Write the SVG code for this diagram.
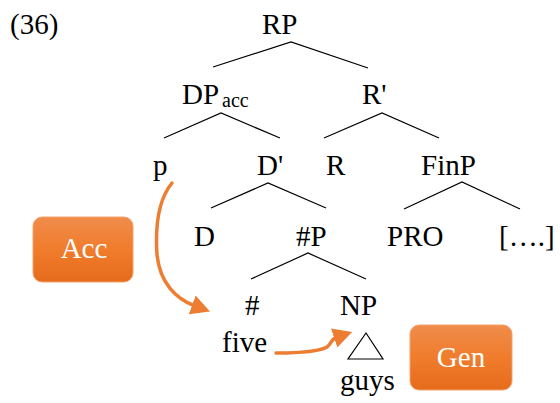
<svg xmlns="http://www.w3.org/2000/svg" width="560" height="403" viewBox="0 0 560 403">
<defs>
<style>
.e{stroke:#000;stroke-width:1.2;fill:none}
.arr{stroke:#ED7D31;stroke-width:3.5;fill:none;stroke-linecap:round}
.box{fill:url(#og);stroke:#F4A36C;stroke-width:1}
</style>
<linearGradient id="og" x1="0" y1="0" x2="0" y2="1">
<stop offset="0" stop-color="#F08C4C"/>
<stop offset="0.5" stop-color="#F07C2C"/>
<stop offset="1" stop-color="#E56C1C"/>
</linearGradient>
<marker id="ah" markerUnits="userSpaceOnUse" markerWidth="22" markerHeight="22" refX="3" refY="10" orient="auto">
<path d="M0,0 L19,10 L0,20 Z" fill="#ED7D31"/>
</marker>
</defs>
<text x="10" y="34" font-size="29" font-family="Liberation Serif, serif">(36)</text>
<g id="edges">
<path class="e" d="M213,67 L291,42 L368,68"/>
<path class="e" d="M164,138 L221,113 L280,138"/>
<path class="e" d="M324,138 L382,113 L439,138"/>
<path class="e" d="M211,208 L268,183 L326,208"/>
<path class="e" d="M404,209 L462,182 L520,209"/>
<path class="e" d="M251,279 L308,253 L366,279"/>
<path class="e" d="M366,333 L348,359 L383,359 Z"/>
</g>
<g id="arrows">
<path class="arr" d="M172,183 C158,200 155,225 157,255 C160,283 176,299 195,306" marker-end="url(#ah)"/>
<path class="arr" d="M276,353 C300,353 320,351 327,347 C332,343 331,339 337,337" marker-end="url(#ah)"/>
</g>
<g id="RP"><text font-size="29" font-family="Liberation Serif, serif" x="262" y="34">RP</text></g>
<g id="DPacc"><text font-size="29" font-family="Liberation Serif, serif" x="182" y="104">DP</text><text font-size="20" font-family="Liberation Serif, serif" x="222" y="107">acc</text></g>
<g id="Rbar"><text font-size="29" font-family="Liberation Serif, serif" x="362" y="104">R'</text></g>
<g id="p"><text font-size="29" font-family="Liberation Serif, serif" x="153" y="175">p</text></g>
<g id="Dbar"><text font-size="29" font-family="Liberation Serif, serif" x="257" y="175">D'</text></g>
<g id="R"><text font-size="29" font-family="Liberation Serif, serif" x="326" y="175">R</text></g>
<g id="FinP"><text font-size="29" font-family="Liberation Serif, serif" x="421" y="175">FinP</text></g>
<g id="D"><text font-size="29" font-family="Liberation Serif, serif" x="194" y="246">D</text></g>
<g id="NumP"><text font-size="29" font-family="Liberation Serif, serif" x="296" y="246">#P</text></g>
<g id="PRO"><text font-size="29" font-family="Liberation Serif, serif" x="387" y="246">PRO</text></g>
<g id="rest"><text font-size="29" font-family="Liberation Serif, serif" x="499" y="246">[….]</text></g>
<g id="Num"><text font-size="29" font-family="Liberation Serif, serif" x="245" y="315">#</text></g>
<g id="NP"><text font-size="29" font-family="Liberation Serif, serif" x="340" y="315">NP</text></g>
<g id="five"><text font-size="29" font-family="Liberation Serif, serif" x="222" y="352">five</text></g>
<g id="guys"><text font-size="29" font-family="Liberation Serif, serif" x="340" y="390">guys</text></g>
<g id="Acc"><rect class="box" x="33" y="217" width="100" height="65" rx="9"/><text font-size="29" font-family="Liberation Serif, serif" fill="#fff" text-anchor="middle" x="84" y="258">Acc</text></g>
<g id="Gen"><rect class="box" x="410" y="325" width="102" height="65" rx="9"/><text font-size="29" font-family="Liberation Serif, serif" fill="#fff" text-anchor="middle" x="461" y="367">Gen</text></g>
</svg>
